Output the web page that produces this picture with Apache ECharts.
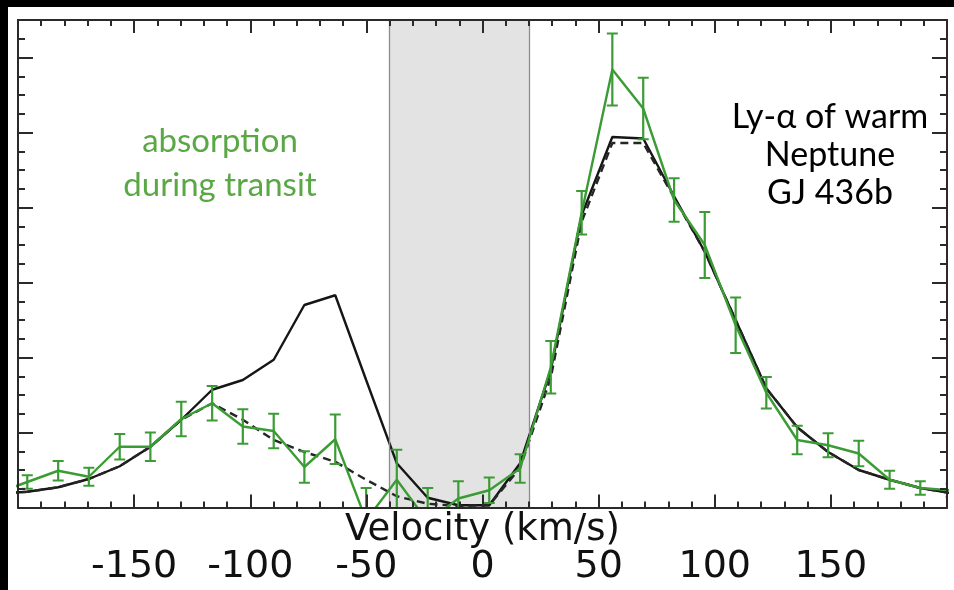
<!DOCTYPE html>
<html>
<head>
<meta charset="utf-8">
<style>
  html, body { margin: 0; padding: 0; background: #ffffff; }
  #chart { width: 954px; height: 590px; }
</style>
<script src="https://cdn.jsdelivr.net/npm/echarts@6/dist/echarts.min.js"></script>
</head>
<body>
<div id="chart"></div>
<script>
// Velocity bins (km/s) of the Ly-alpha spectrum
const velocity = [-209.3, -196.0, -182.7, -169.5, -156.2, -143.0, -129.7, -116.4, -103.2, -89.9,
  -76.7, -63.4, -50.1, -36.9, -23.6, -10.4, 2.9, 16.2, 29.4, 42.7,
  55.9, 69.2, 82.5, 95.7, 109.0, 122.2, 135.5, 148.8, 162.0, 175.3,
  188.5, 201.8];

// Out-of-transit reference profile (solid black)
const referenceFlux = [0.18, 0.21, 0.27, 0.38, 0.55, 0.81, 1.17, 1.57, 1.70, 1.97,
  2.70, 2.83, 1.70, 0.59, 0.13, 0.03, 0.03, 0.59, 1.83, 3.90,
  4.94, 4.92, 4.15, 3.41, 2.50, 1.59, 1.07, 0.74, 0.50, 0.37,
  0.26, 0.19];

// Profile with the absorption model applied (dashed black)
const absorbedFlux = [0.18, 0.21, 0.27, 0.38, 0.55, 0.81, 1.17, 1.39, 1.17, 0.90,
  0.74, 0.61, 0.37, 0.15, 0.05, 0.02, 0.03, 0.53, 1.73, 3.81,
  4.86, 4.86, 4.13, 3.41, 2.50, 1.59, 1.07, 0.74, 0.50, 0.37,
  0.26, 0.19];

// In-transit measurements and their 1-sigma errors (green)
const transitFlux = [0.19, 0.34, 0.49, 0.41, 0.81, 0.81, 1.18, 1.39, 1.08, 1.02,
  0.54, 0.91, -0.17, 0.37, -0.19, 0.12, 0.23, 0.52, 1.87, 3.93,
  5.84, 5.32, 4.10, 3.50, 2.43, 1.53, 0.90, 0.83, 0.72, 0.37,
  0.26, 0.23];
const transitError = [0.09, 0.09, 0.13, 0.12, 0.17, 0.19, 0.23, 0.23, 0.23, 0.23,
  0.21, 0.33, 0.43, 0.40, 0.45, 0.23, 0.17, 0.19, 0.35, 0.29,
  0.48, 0.41, 0.29, 0.44, 0.37, 0.21, 0.19, 0.16, 0.17, 0.12,
  0.09, 0.09];

// Velocity range hidden by geocoronal emission
const maskedRange = [-40, 20];

const xRange = [-200, 200];
const yRange = [0, 6.5];

const annotationLeft = 'absorption\nduring transit';
const annotationRight = 'Ly-\u03b1 of warm\nNeptune\nGJ 436b';

const GREEN = '#3b9b34';
const FRAME = '#2a2a2a';

const zip = (a, b) => a.map((v, i) => [v, b[i]]);

const chart = echarts.init(document.getElementById('chart'), null, { renderer: 'canvas' });

function frameX(position, showLabels) {
  return {
    type: 'value', position: position, min: xRange[0], max: xRange[1], interval: 50,
    z: 10,
    axisLine: { show: true, onZero: false, lineStyle: { color: FRAME, width: 2 } },
    axisTick: { show: true, inside: true, length: 13, lineStyle: { color: FRAME, width: 2 } },
    minorTick: { show: true, splitNumber: 5, length: 6, lineStyle: { color: FRAME, width: 2 } },
    splitLine: { show: false }, minorSplitLine: { show: false },
    axisLabel: showLabels ? {
      show: true, margin: 41, color: '#111', fontFamily: 'DejaVu Sans', fontSize: 38,
      showMinLabel: false, showMaxLabel: false,
      formatter: v => (Math.abs(v) === 200 ? '' : String(v))
    } : { show: false }
  };
}

function frameY(position, interval, len) {
  return {
    type: 'value', position: position, min: yRange[0], max: yRange[1], interval: interval,
    z: 10,
    axisLine: { show: true, onZero: false, lineStyle: { color: FRAME, width: 2 } },
    axisTick: { show: true, inside: true, length: len, lineStyle: { color: FRAME, width: 2 } },
    splitLine: { show: false },
    axisLabel: { show: false }
  };
}

const bottomAxis = frameX('bottom', true);
bottomAxis.name = 'Velocity (km/s)';
bottomAxis.nameLocation = 'middle';
bottomAxis.nameGap = 4;
bottomAxis.nameMoveOverlap = false;
bottomAxis.nameTextStyle = { color: '#111', fontFamily: 'DejaVu Sans', fontSize: 37 };

const option = {
  backgroundColor: '#ffffff',
  animation: false,
  grid: { left: 18, top: 20, width: 929, height: 487.5, outerBoundsMode: 'none', containLabel: false },
  xAxis: [bottomAxis, frameX('top', false)],
  yAxis: [
    frameY('left', 1, 15), frameY('left', 0.25, 7),
    frameY('right', 1, 15), frameY('right', 0.25, 7)
  ],
  series: [
    {
      type: 'line', data: [], z: 1, silent: true,
      markArea: {
        silent: true,
        itemStyle: { color: '#e3e3e3', borderWidth: 0 },
        data: [[{ xAxis: maskedRange[0] }, { xAxis: maskedRange[1] }]]
      },
      markLine: {
        silent: true, symbol: 'none', label: { show: false },
        lineStyle: { color: '#8c8c8c', width: 1.3, type: 'solid' },
        data: [{ xAxis: maskedRange[0] }, { xAxis: maskedRange[1] }]
      }
    },
    {
      type: 'line', data: zip(velocity, referenceFlux), symbol: 'none', z: 4,
      lineStyle: { color: '#161616', width: 2.4 }
    },
    {
      type: 'line', data: zip(velocity, absorbedFlux), symbol: 'none', z: 4,
      lineStyle: { color: '#262626', width: 2.4, type: [8, 5] }
    },
    {
      type: 'line', data: zip(velocity, transitFlux), symbol: 'none', z: 5,
      lineStyle: { color: GREEN, width: 2.4 }
    },
    {
      type: 'custom', z: 5, clip: true,
      data: velocity.map((v, i) => [v, transitFlux[i], transitError[i]]),
      renderItem: function (params, api) {
        const v = api.value(0), f = api.value(1), e = api.value(2);
        const hi = api.coord([v, f + e]);
        const lo = api.coord([v, f - e]);
        const cap = 5.5;
        const style = { stroke: GREEN, lineWidth: 2.2 };
        return {
          type: 'group',
          children: [
            { type: 'line', shape: { x1: hi[0], y1: hi[1], x2: lo[0], y2: lo[1] }, style: style },
            { type: 'line', shape: { x1: hi[0] - cap, y1: hi[1], x2: hi[0] + cap, y2: hi[1] }, style: style },
            { type: 'line', shape: { x1: lo[0] - cap, y1: lo[1], x2: lo[0] + cap, y2: lo[1] }, style: style }
          ]
        };
      }
    }
  ],
  graphic: [
    { type: 'rect', left: 0, top: 0, shape: { width: 954, height: 7 }, style: { fill: '#000' }, z: 100 },
    { type: 'rect', left: 0, top: 0, shape: { width: 8, height: 590 }, style: { fill: '#000' }, z: 100 },
    {
      type: 'text', x: 220, y: 163, z: 50,
      style: {
        text: annotationLeft, fill: '#5aa845', font: '33px Lato',
        textAlign: 'center', align: 'center', textVerticalAlign: 'middle', verticalAlign: 'middle',
        lineHeight: 44
      }
    },
    {
      type: 'text', x: 830, y: 155, z: 50,
      style: {
        text: annotationRight, fill: '#000', font: '34px Lato',
        textAlign: 'center', align: 'center', textVerticalAlign: 'middle', verticalAlign: 'middle',
        lineHeight: 38
      }
    }
  ]
};

chart.setOption(option);
</script>
</body>
</html>
